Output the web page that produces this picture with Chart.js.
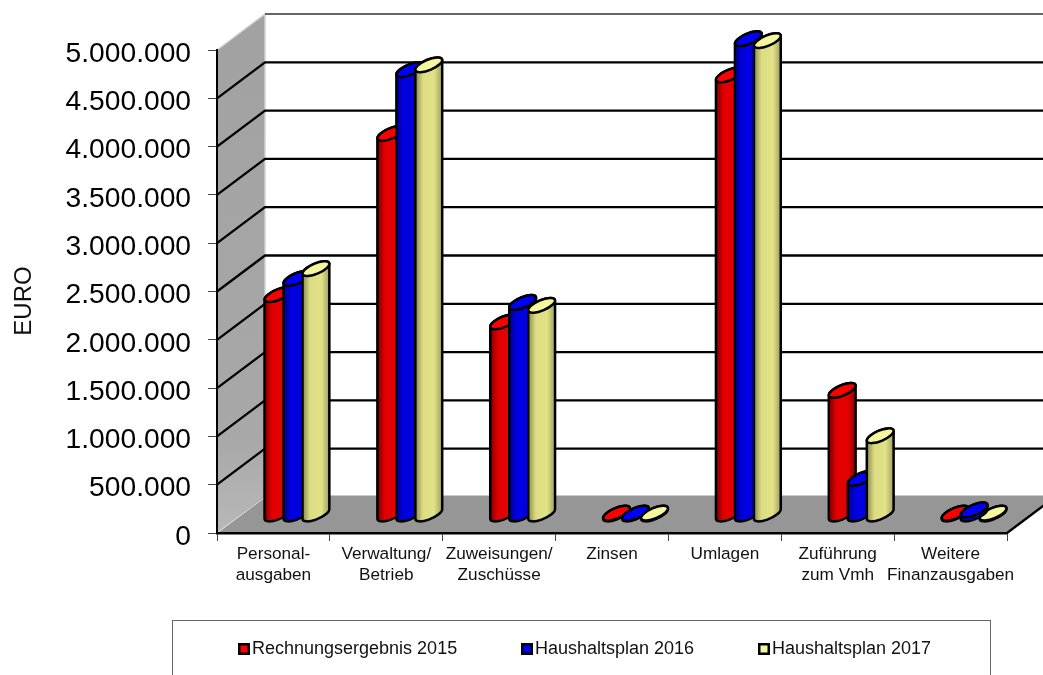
<!DOCTYPE html>
<html>
<head>
<meta charset="utf-8">
<style>html,body{margin:0;padding:0;background:#fff;overflow:hidden}canvas{display:block}</style>
<script src="https://cdn.jsdelivr.net/npm/chart.js@4"></script>
</head>
<body>
<canvas id="c" width="1043" height="675"></canvas>
<script>
const categories = [["Personal-","ausgaben"],["Verwaltung/","Betrieb"],["Zuweisungen/","Zuschüsse"],["Zinsen"],["Umlagen"],["Zuführung","zum Vmh"],["Weitere","Finanzausgaben"]];
const rechnung2015 = [2270000, 3940000, 1990000, 8000, 4545000, 1280000, 8000];
const plan2016     = [2440000, 4600000, 2190000, 8000, 4920000, 370000, 42000];
const plan2017     = [2540000, 4650000, 2160000, 8000, 4900000, 810000, 8000];
const seriesNames  = ["Rechnungsergebnis 2015","Haushaltsplan 2016","Haushaltsplan 2017"];
const yTitle = "EURO";
const FONT = '"Liberation Sans", Arial, sans-serif';

const DEPTH_X = 48, DEPTH_Y = 36, MID_X = 23.5, MID_Y = 19;
const RX = 14.4, RY = 5.2, TILT = -23 * Math.PI / 180;
const styles = [
  {stops:['#7a0000','#e00000','#e80000','#8a0000'], top:'#ff0000', key:'#ff0000'},
  {stops:['#000090','#0000e0','#0000e0','#0000a8'], top:'#0000ff', key:'#0000ff'},
  {stops:['#8a8a50','#dcdc82','#e2e288','#a0a060'], top:'#f6f69e', key:'#f6f69e'}
];
const legendPos = [238, 521, 758];

function cylinder(ctx, cx, yTop, yBase, s) {
  const t0 = Math.atan2(-RY * Math.sin(TILT), RX * Math.cos(TILT));
  const halfW = RX * Math.cos(t0) * Math.cos(TILT) - RY * Math.sin(t0) * Math.sin(TILT);
  const g = ctx.createLinearGradient(cx - halfW, 0, cx + halfW, 0);
  g.addColorStop(0, s.stops[0]); g.addColorStop(0.28, s.stops[1]);
  g.addColorStop(0.7, s.stops[2]); g.addColorStop(1, s.stops[3]);
  ctx.lineWidth = 2.5; ctx.strokeStyle = '#000'; ctx.lineJoin = 'round';
  ctx.beginPath();
  ctx.ellipse(cx, yBase, RX, RY, TILT, t0, t0 + Math.PI);
  ctx.ellipse(cx, yTop, RX, RY, TILT, t0 + Math.PI, t0 + 2 * Math.PI);
  ctx.closePath();
  ctx.fillStyle = g; ctx.fill(); ctx.stroke();
  ctx.beginPath();
  ctx.ellipse(cx, yTop, RX, RY, TILT, 0, 2 * Math.PI);
  ctx.fillStyle = s.top; ctx.fill(); ctx.stroke();
}

const scene = {
  id: 'scene',
  beforeDraw(chart) {
    const {ctx, scales:{x, y}} = chart;
    const L = x.left, R = x.right, B = y.getPixelForValue(0), T = y.getPixelForValue(5000000);
    ctx.save();
    let g = ctx.createLinearGradient(0, T, 0, B);
    g.addColorStop(0, '#a2a2a2'); g.addColorStop(0.8, '#a8a8a8'); g.addColorStop(1, '#b8b8b8');
    ctx.fillStyle = g;
    ctx.beginPath();
    ctx.moveTo(L, T); ctx.lineTo(L + DEPTH_X, T - DEPTH_Y);
    ctx.lineTo(L + DEPTH_X, B - DEPTH_Y); ctx.lineTo(L, B); ctx.closePath(); ctx.fill();
    ctx.strokeStyle = '#d2d2d2'; ctx.lineWidth = 1.5;
    ctx.beginPath(); ctx.moveTo(L, T); ctx.lineTo(L + DEPTH_X, T - DEPTH_Y);
    ctx.lineTo(L + DEPTH_X, B - DEPTH_Y); ctx.stroke();
    ctx.fillStyle = '#969696';
    ctx.beginPath();
    ctx.moveTo(L, B); ctx.lineTo(L + DEPTH_X, B - DEPTH_Y - 1.5);
    ctx.lineTo(R + DEPTH_X, B - DEPTH_Y - 1.5); ctx.lineTo(R, B); ctx.closePath(); ctx.fill();
    ctx.strokeStyle = '#e8e8e8'; ctx.lineWidth = 1;
    ctx.beginPath(); ctx.moveTo(L, B); ctx.lineTo(L + DEPTH_X, B - DEPTH_Y); ctx.stroke();
    ctx.strokeStyle = '#000'; ctx.lineWidth = 2.2;
    ctx.beginPath(); ctx.moveTo(R, B); ctx.lineTo(R + DEPTH_X, B - DEPTH_Y); ctx.stroke();
    y.ticks.forEach(t => {
      if (t.value === 0) return;
      const p = y.getPixelForValue(t.value);
      const topLine = t.value === 5000000;
      ctx.strokeStyle = topLine ? '#333' : '#000';
      ctx.lineWidth = topLine ? 1.5 : 2.3;
      ctx.beginPath();
      if (topLine) ctx.moveTo(L + DEPTH_X, p - DEPTH_Y);
      else { ctx.moveTo(L, p); ctx.lineTo(L + DEPTH_X, p - DEPTH_Y); }
      ctx.lineTo(R + DEPTH_X, p - DEPTH_Y);
      ctx.stroke();
    });
    ctx.restore();
  },
  beforeDatasetsDraw(chart) {
    const ctx = chart.ctx, y = chart.scales.y;
    const base = y.getPixelForValue(0) - MID_Y;
    ctx.save();
    categories.forEach((c, i) => {
      const order = i === categories.length - 1 ? [0, 2, 1] : [0, 1, 2];
      order.forEach(d => {
        const el = chart.getDatasetMeta(d).data[i];
        cylinder(ctx, el.x + MID_X, el.y - MID_Y, base, styles[d]);
      });
    });
    ctx.restore();
    return false;
  },
  afterDraw(chart) {
    const ctx = chart.ctx, y = chart.scales.y;
    ctx.save();
    ctx.font = '28.2px ' + FONT; ctx.fillStyle = '#000';
    ctx.textAlign = 'right'; ctx.textBaseline = 'middle';
    y.ticks.forEach(t => ctx.fillText(t.value.toLocaleString('de-DE'), 191, y.getPixelForValue(t.value) + 4));
    ctx.save();
    ctx.translate(24, 301); ctx.rotate(-Math.PI / 2);
    ctx.font = '24px ' + FONT; ctx.fillStyle = '#111';
    ctx.textAlign = 'center'; ctx.textBaseline = 'middle';
    ctx.fillText(yTitle, 0, 0);
    ctx.restore();
    ctx.strokeStyle = '#666'; ctx.lineWidth = 1;
    ctx.strokeRect(172.5, 620.5, 818, 70);
    ctx.font = '18px ' + FONT; ctx.textAlign = 'left'; ctx.textBaseline = 'middle';
    seriesNames.forEach((n, i) => {
      const xp = legendPos[i];
      ctx.fillStyle = '#000'; ctx.fillRect(xp, 643, 12, 12);
      ctx.fillStyle = styles[i].key; ctx.fillRect(xp + 2.5, 645.5, 7, 7);
      ctx.fillStyle = '#111'; ctx.fillText(n, xp + 14, 649.5);
    });
    ctx.restore();
  }
};

new Chart(document.getElementById('c'), {
  type: 'bar',
  data: {
    labels: categories,
    datasets: [rechnung2015, plan2016, plan2017].map((d, i) => ({
      label: seriesNames[i], data: d, backgroundColor: styles[i].key,
      categoryPercentage: 0.505, barPercentage: 1
    }))
  },
  plugins: [scene],
  options: {
    responsive: false, animation: false, devicePixelRatio: 1,
    layout: {padding: {top: 50, right: 36, left: 0, bottom: 0}},
    plugins: {legend: {display: false}, title: {display: false}, tooltip: {enabled: false}},
    scales: {
      x: {
        afterFit(s) { s.height = 142; },
        grid: {drawOnChartArea: false, drawTicks: true, tickLength: 8, color: '#444', lineWidth: 1},
        border: {color: '#000', width: 2.5},
        ticks: {font: {family: FONT, size: 17.2, lineHeight: 1.22}, color: '#111', maxRotation: 0, minRotation: 0, autoSkip: false, padding: 3}
      },
      y: {
        min: 0, max: 5000000,
        afterFit(s) { s.width = 217; },
        grid: {drawOnChartArea: false, drawTicks: true, tickLength: 9, color: '#444', lineWidth: 1},
        border: {color: '#000', width: 2},
        ticks: {stepSize: 500000, display: false}
      }
    }
  }
});
</script>
</body>
</html>
